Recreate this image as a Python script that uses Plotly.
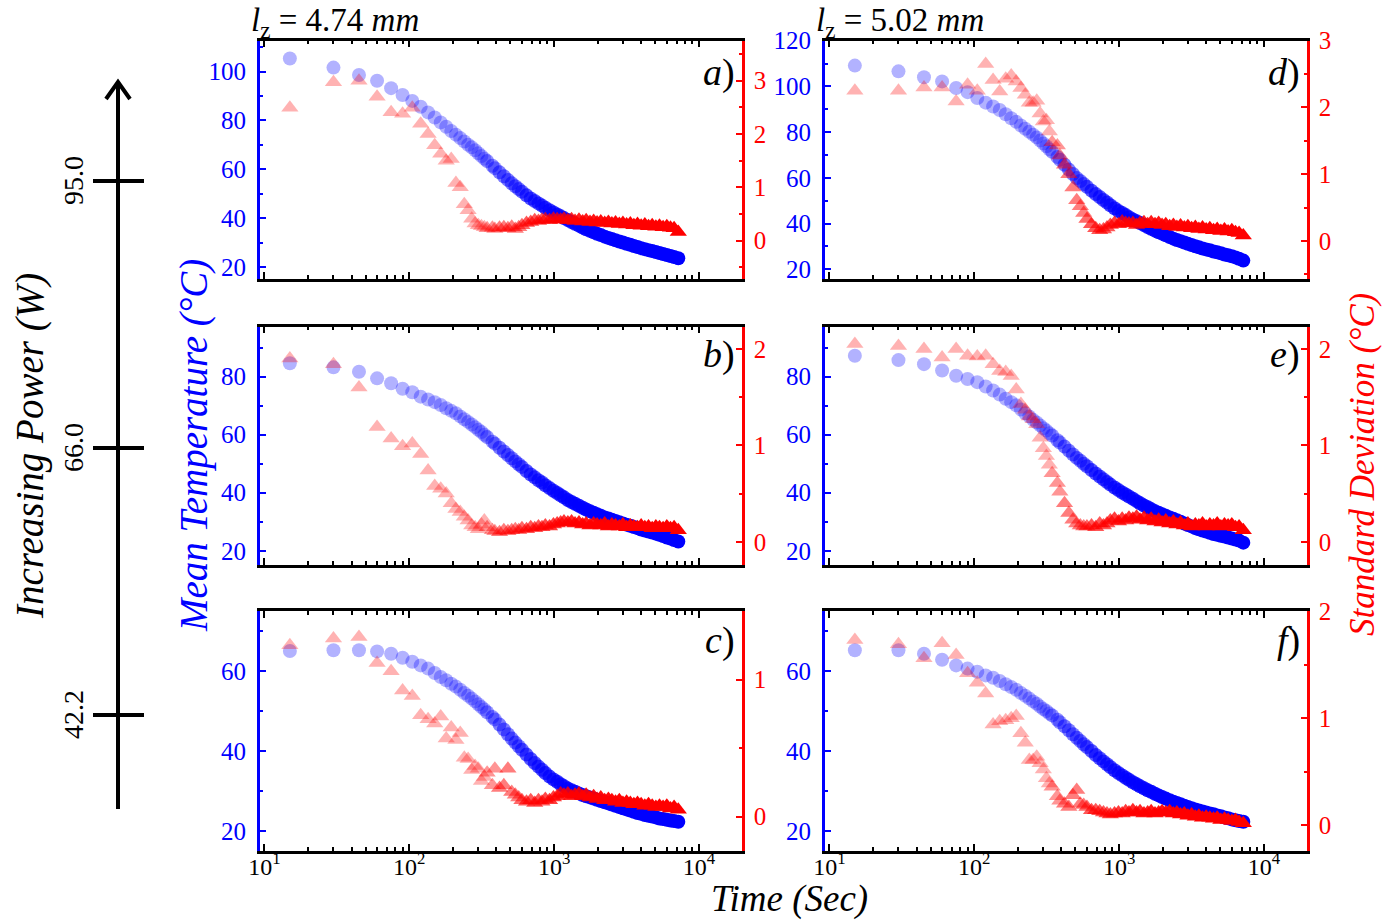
import plotly.graph_objects as go

# ---------------- data ----------------
TIME = [15, 30, 45, 60, 75, 90, 105, 120, 135, 150, 165, 180, 195, 210, 225, 240, 255, 270, 285, 300,
        315, 330, 345, 375, 390, 420, 450, 480, 510, 540, 570, 600,
        645, 690, 735, 780, 825, 870, 930, 990, 1050, 1110, 1170,
        1245, 1320, 1395, 1485, 1575, 1665, 1770, 1875, 1980,
        2100, 2235, 2370, 2505, 2655, 2820, 2985, 3165, 3360, 3555, 3765, 3990,
        4230, 4485, 4755, 5040, 5340, 5655, 6000, 6360, 6735, 7200]

MEAN_A = [105.3, 101.6, 98.6, 96.2, 93.2, 90.4, 88.0, 85.6, 83.3, 81.2, 79.2, 77.4, 75.7, 74.2, 72.8, 71.4, 70.1, 69.0, 67.8, 66.6,
          65.5, 64.4, 63.4, 61.5, 60.5, 58.8, 57.2, 55.7, 54.3, 53.1, 52.0, 50.9,
          49.4, 48.1, 47.1, 46.1, 45.2, 44.3, 43.3, 42.4, 41.6, 40.8, 40.1,
          39.3, 38.5, 37.8, 37.0, 36.2, 35.5, 34.9, 34.3, 33.7,
          33.2, 32.5, 32.0, 31.5, 31.0, 30.5, 30.1, 29.6, 29.2, 28.7, 28.3, 27.8,
          27.4, 27.0, 26.6, 26.2, 25.8, 25.4, 25.0, 24.6, 24.2, 23.7]
STD_A = [2.49, 2.97, 3.00, 2.70, 2.41, 2.38, 2.49, 2.19, 2.00, 1.79, 1.63, 1.50, 1.53, 1.08, 1.00, 0.68, 0.57, 0.41, 0.32, 0.29,
         0.27, 0.25, 0.23, 0.24, 0.22, 0.24, 0.25, 0.23, 0.26, 0.22, 0.25, 0.29,
         0.33, 0.35, 0.38, 0.37, 0.39, 0.40, 0.38, 0.41, 0.40, 0.39, 0.41,
         0.38, 0.40, 0.37, 0.39, 0.36, 0.38, 0.35, 0.37, 0.34,
         0.36, 0.33, 0.35, 0.32, 0.34, 0.31, 0.33, 0.30, 0.32, 0.29, 0.31, 0.28,
         0.30, 0.27, 0.29, 0.26, 0.28, 0.25, 0.27, 0.24, 0.23, 0.16]

MEAN_B = [84.6, 83.2, 81.7, 79.4, 77.7, 75.8, 74.6, 73.1, 72.1, 71.2, 70.2, 69.1, 68.2, 67.4, 66.3, 65.3, 64.4, 63.5, 62.6, 61.7,
          60.9, 60.0, 59.2, 57.6, 56.9, 55.5, 54.2, 53.0, 51.9, 50.8, 49.8, 48.9,
          47.5, 46.3, 45.3, 44.3, 43.5, 42.6, 41.6, 40.7, 39.9, 39.1, 38.4,
          37.5, 36.8, 36.2, 35.5, 34.8, 34.2, 33.6, 33.1, 32.6,
          32.1, 31.5, 31.1, 30.7, 30.3, 29.8, 29.4, 29.0, 28.6, 28.2, 27.8, 27.3,
          27.0, 26.6, 26.3, 25.9, 25.5, 25.1, 24.6, 24.2, 23.7, 23.2]
STD_B = [1.90, 1.84, 1.60, 1.19, 1.07, 0.99, 1.02, 0.91, 0.74, 0.58, 0.55, 0.50, 0.40, 0.34, 0.31, 0.26, 0.22, 0.17, 0.15, 0.13,
         0.18, 0.22, 0.15, 0.12, 0.11, 0.10, 0.12, 0.11, 0.12, 0.13, 0.12, 0.14,
         0.13, 0.15, 0.14, 0.16, 0.15, 0.17, 0.16, 0.18, 0.19, 0.20, 0.21,
         0.20, 0.21, 0.19, 0.20, 0.18, 0.19, 0.17, 0.19, 0.18,
         0.17, 0.19, 0.16, 0.18, 0.17, 0.16, 0.18, 0.15, 0.17, 0.16, 0.15, 0.17,
         0.15, 0.16, 0.14, 0.16, 0.15, 0.14, 0.16, 0.14, 0.15, 0.12]

MEAN_C = [65.0, 65.2, 65.2, 64.9, 64.3, 63.3, 62.3, 61.4, 60.6, 59.5, 58.5, 57.7, 56.8, 56.1, 55.3, 54.5, 53.8, 53.1, 52.4, 51.7,
          51.0, 50.4, 49.7, 48.5, 47.9, 46.6, 45.4, 44.2, 43.1, 42.1, 41.2, 40.3,
          39.1, 38.0, 37.0, 36.1, 35.3, 34.5, 33.6, 32.9, 32.3, 31.7, 31.2,
          30.6, 30.2, 29.8, 29.4, 29.0, 28.7, 28.4, 28.1, 27.8,
          27.5, 27.2, 26.9, 26.6, 26.3, 26.0, 25.7, 25.4, 25.1, 24.8, 24.5, 24.3,
          24.0, 23.8, 23.6, 23.4, 23.1, 23.0, 22.8, 22.6, 22.5, 22.3]
STD_C = [1.25, 1.30, 1.31, 1.12, 1.06, 0.92, 0.88, 0.74, 0.71, 0.68, 0.73, 0.57, 0.65, 0.56, 0.61, 0.43, 0.42, 0.34, 0.37, 0.35,
         0.26, 0.29, 0.32, 0.23, 0.35, 0.21, 0.23, 0.35, 0.18, 0.16, 0.14, 0.12,
         0.11, 0.12, 0.10, 0.12, 0.11, 0.13, 0.12, 0.14, 0.15, 0.17, 0.16,
         0.17, 0.15, 0.16, 0.17, 0.15, 0.16, 0.14, 0.15, 0.13,
         0.14, 0.12, 0.13, 0.12, 0.11, 0.12, 0.10, 0.11, 0.10, 0.09, 0.10, 0.09,
         0.08, 0.09, 0.08, 0.07, 0.08, 0.07, 0.08, 0.06, 0.07, 0.05]

MEAN_D = [109.1, 106.6, 104.0, 102.2, 99.3, 97.5, 94.9, 92.9, 91.2, 89.7, 87.8, 86.1, 84.5, 82.9, 81.5, 80.2, 78.9, 77.7, 76.3, 75.0,
          73.8, 72.5, 71.4, 69.1, 67.9, 65.7, 63.6, 61.7, 59.9, 58.6, 57.3, 56.1,
          54.4, 52.9, 51.6, 50.3, 49.2, 48.0, 46.7, 45.5, 44.6, 43.7, 42.8,
          41.8, 41.0, 40.2, 39.4, 38.5, 37.7, 36.9, 36.2, 35.6,
          34.9, 34.1, 33.4, 32.8, 32.3, 31.7, 31.2, 30.6, 30.1, 29.6, 29.1, 28.7,
          28.3, 27.8, 27.4, 27.0, 26.5, 26.1, 25.7, 25.2, 24.6, 23.8]
STD_D = [2.25, 2.25, 2.30, 2.30, 2.09, 2.34, 2.25, 2.65, 2.41, 2.24, 2.43, 2.48, 2.39, 2.29, 2.19, 2.07, 2.07, 2.10, 1.91, 1.79,
         1.81, 1.64, 1.48, 1.43, 1.28, 1.14, 1.00, 0.80, 0.61, 0.52, 0.42, 0.33,
         0.25, 0.19, 0.16, 0.17, 0.20, 0.24, 0.27, 0.25, 0.29, 0.27, 0.26,
         0.27, 0.24, 0.27, 0.28, 0.25, 0.28, 0.25, 0.27, 0.24,
         0.25, 0.22, 0.24, 0.21, 0.23, 0.20, 0.22, 0.19, 0.21, 0.18, 0.20, 0.17,
         0.19, 0.16, 0.18, 0.15, 0.17, 0.14, 0.16, 0.13, 0.12, 0.08]

MEAN_E = [87.2, 85.7, 84.3, 82.1, 80.3, 79.2, 78.1, 76.6, 75.2, 73.8, 72.4, 71.2, 70.1, 68.7, 67.4, 66.3, 65.1, 64.2, 63.2, 62.2,
          61.4, 60.5, 59.7, 58.1, 57.3, 55.9, 54.5, 53.2, 52.0, 51.0, 50.0, 49.1,
          47.8, 46.6, 45.6, 44.6, 43.7, 42.8, 41.8, 40.9, 40.1, 39.4, 38.7,
          37.9, 37.1, 36.4, 35.6, 35.0, 34.3, 33.6, 33.1, 32.6,
          32.1, 31.5, 31.0, 30.5, 30.0, 29.4, 28.9, 28.4, 27.8, 27.4, 27.0, 26.6,
          26.2, 25.8, 25.5, 25.2, 24.9, 24.6, 24.2, 23.9, 23.5, 22.8]
STD_E = [2.05, 2.03, 2.00, 1.91, 2.00, 1.93, 1.92, 1.93, 1.84, 1.77, 1.76, 1.72, 1.58, 1.43, 1.37, 1.30, 1.27, 1.22, 1.08, 0.97,
         0.89, 0.80, 0.71, 0.61, 0.52, 0.40, 0.30, 0.23, 0.19, 0.17, 0.16, 0.16,
         0.17, 0.15, 0.19, 0.17, 0.19, 0.22, 0.24, 0.21, 0.24, 0.22, 0.25,
         0.24, 0.26, 0.23, 0.25, 0.22, 0.24, 0.21, 0.23, 0.20,
         0.22, 0.19, 0.21, 0.18, 0.20, 0.17, 0.19, 0.16, 0.18, 0.17, 0.19, 0.16,
         0.18, 0.17, 0.19, 0.16, 0.18, 0.17, 0.18, 0.15, 0.16, 0.12]

MEAN_F = [65.2, 65.2, 64.3, 62.8, 61.4, 60.6, 59.8, 58.9, 58.3, 57.5, 56.7, 56.0, 55.3, 54.5, 53.8, 53.1, 52.4, 51.8, 51.1, 50.5,
          50.0, 49.4, 48.9, 47.8, 47.2, 46.2, 45.2, 44.2, 43.3, 42.5, 41.7, 41.0,
          40.0, 39.0, 38.2, 37.4, 36.7, 36.0, 35.2, 34.5, 33.9, 33.3, 32.8,
          32.2, 31.7, 31.2, 30.7, 30.2, 29.8, 29.3, 28.9, 28.5,
          28.1, 27.7, 27.3, 27.0, 26.7, 26.3, 26.0, 25.7, 25.4, 25.1, 24.9, 24.6,
          24.4, 24.2, 23.9, 23.7, 23.4, 23.2, 22.9, 22.7, 22.5, 22.3]
STD_F = [1.73, 1.69, 1.56, 1.70, 1.59, 1.42, 1.33, 1.23, 0.94, 0.97, 0.98, 1.00, 1.02, 0.86, 0.77, 0.61, 0.61, 0.64, 0.58, 0.52,
         0.44, 0.39, 0.36, 0.27, 0.23, 0.20, 0.17, 0.28, 0.33, 0.20, 0.19, 0.17,
         0.14, 0.14, 0.13, 0.12, 0.11, 0.10, 0.11, 0.12, 0.11, 0.13, 0.12,
         0.14, 0.12, 0.13, 0.11, 0.12, 0.13, 0.11, 0.12, 0.13,
         0.12, 0.13, 0.11, 0.12, 0.10, 0.11, 0.09, 0.10, 0.08, 0.09, 0.07, 0.08,
         0.07, 0.06, 0.07, 0.05, 0.06, 0.05, 0.04, 0.05, 0.03, 0.02]

SAMPLE_INTERVAL = 15  # s, acquisition step of the original recording

PANEL_LABELS = ["a", "b", "c", "d", "e", "f"]
COLUMN_TITLES = ["<i>l</i><sub>z</sub> = 4.74 <i>mm</i>", "<i>l</i><sub>z</sub> = 5.02 <i>mm</i>"]
POWER_LABELS = ["95.0", "66.0", "42.2"]
X_TICKS = [10, 100, 1000, 10000]
X_TICKTEXT = ["10<sup>1</sup>", "10<sup>2</sup>", "10<sup>3</sup>", "10<sup>4</sup>"]

# ---------------- layout helpers ----------------
W, H = 1383, 923
FONT = "Liberation Serif, Times New Roman, serif"
BLUE = "#0000ff"
RED = "#ff0000"
BASE_ALPHA = 0.3


def px(x):
    return x / W


def py(y):
    return 1 - y / H


# each plotted point stands for the original samples in its time bin, so its
# opacity is the stacked opacity of those samples
def stacked_opacity(times):
    out = []
    n = len(times)
    for i in range(n):
        if i == 0:
            dt = times[1] - times[0]
        elif i == n - 1:
            dt = times[-1] - times[-2]
        else:
            dt = (times[i + 1] - times[i - 1]) / 2
        k = max(dt / SAMPLE_INTERVAL, 1.0)
        out.append(min(1.0, 1 - (1 - BASE_ALPHA) ** k))
    return out


OPAC = stacked_opacity(TIME)

COLS = [(260, 741.7), (825, 1306.7)]
ROWS = [(40.7, 279), (326.7, 565), (611, 851)]

panels = [
    dict(mean=MEAN_A, std=STD_A, col=0, row=0, yr=[15.2, 112.6], yt=[20, 40, 60, 80, 100], ym=[30, 50, 70, 90, 110],
         sr=[-0.72, 3.75], st=[0, 1, 2, 3], sm=[-0.5, 0.5, 1.5, 2.5, 3.5]),
    dict(mean=MEAN_B, std=STD_B, col=0, row=1, yr=[15.1, 97.2], yt=[20, 40, 60, 80], ym=[30, 50, 70, 90],
         sr=[-0.24, 2.23], st=[0, 1, 2], sm=[0.5, 1.5]),
    dict(mean=MEAN_C, std=STD_C, col=0, row=2, yr=[15, 75], yt=[20, 40, 60], ym=[30, 50, 70],
         sr=[-0.25, 1.5], st=[0, 1], sm=[0.5]),
    dict(mean=MEAN_D, std=STD_D, col=1, row=0, yr=[15.75, 120], yt=[20, 40, 60, 80, 100, 120], ym=[30, 50, 70, 90, 110],
         sr=[-0.57, 3.0], st=[0, 1, 2, 3], sm=[-0.5, 0.5, 1.5, 2.5]),
    dict(mean=MEAN_E, std=STD_E, col=1, row=1, yr=[15.1, 97.2], yt=[20, 40, 60, 80], ym=[30, 50, 70, 90],
         sr=[-0.24, 2.23], st=[0, 1, 2], sm=[0.5, 1.5]),
    dict(mean=MEAN_F, std=STD_F, col=1, row=2, yr=[15, 75], yt=[20, 40, 60], ym=[30, 50, 70],
         sr=[-0.24, 2.0], st=[0, 1, 2], sm=[0.5, 1.5]),
]

x_minor = [m * 10 ** e for e in range(1, 5) for m in range(2, 10)]
x_minor = [v for v in x_minor if v < 20000]

fig = go.Figure()
layout = dict(
    width=W, height=H, autosize=False,
    margin=dict(l=0, r=0, t=0, b=0),
    paper_bgcolor="white", plot_bgcolor="rgba(0,0,0,0)",
    showlegend=False, template="none",
    font=dict(family=FONT, color="black"),
)

for i, p in enumerate(panels):
    n = i + 1
    ns = i + 7
    xa = "x" if n == 1 else f"x{n}"
    ya = "y" if n == 1 else f"y{n}"
    ys = f"y{ns}"
    x0, x1 = COLS[p["col"]]
    ytop, ybot = ROWS[p["row"]]
    bottom_row = p["row"] == 2

    layout[f"xaxis{n}"] = dict(
        domain=[px(x0), px(x1)], anchor=ya, type="log", range=[0.97, 4.295],
        showline=True, linecolor="black", linewidth=2.5, mirror="ticks",
        ticks="inside", ticklen=7, tickwidth=2, tickcolor="black",
        tickvals=X_TICKS, ticktext=X_TICKTEXT, showticklabels=bottom_row,
        ticklabelstandoff=-8,
        tickfont=dict(family=FONT, size=24, color="black"),
        minor=dict(tickvals=x_minor, ticks="inside", ticklen=4, tickwidth=1.5, tickcolor="black"),
        showgrid=False, zeroline=False,
    )
    layout[f"yaxis{n}"] = dict(
        domain=[py(ybot), py(ytop)], anchor=xa, range=p["yr"],
        showline=True, linecolor=BLUE, linewidth=3,
        ticks="inside", ticklen=6, tickwidth=2, tickcolor=BLUE,
        tickvals=p["yt"], ticklabelstandoff=6,
        tickfont=dict(family=FONT, size=25, color=BLUE),
        minor=dict(tickvals=p["ym"], ticks="inside", ticklen=3, tickwidth=2, tickcolor=BLUE),
        showgrid=False, zeroline=False,
    )
    layout[f"yaxis{ns}"] = dict(
        overlaying=ya, anchor=xa, side="right", range=p["sr"],
        showline=True, linecolor=RED, linewidth=3,
        ticks="inside", ticklen=6, tickwidth=2, tickcolor=RED,
        tickvals=p["st"], ticklabelstandoff=4,
        tickfont=dict(family=FONT, size=25, color=RED),
        minor=dict(tickvals=p["sm"], ticks="inside", ticklen=3, tickwidth=2, tickcolor=RED),
        showgrid=False, zeroline=False,
    )

    fig.add_trace(go.Scatter(
        x=TIME, y=p["mean"], xaxis=xa, yaxis=ya, mode="markers",
        marker=dict(symbol="circle", size=14, color=BLUE, opacity=OPAC, line=dict(width=0)),
        name="Mean Temperature",
    ))
    fig.add_trace(go.Scatter(
        x=TIME, y=p["std"], xaxis=xa, yaxis=ys, mode="markers",
        marker=dict(symbol="triangle-up", size=15, color=RED, opacity=OPAC, line=dict(width=0)),
        name="Standard Deviation",
    ))

annotations = []
label_pos_y = [73, 355, 640]
for i, p in enumerate(panels):
    xr = COLS[p["col"]][1] - 5
    annotations.append(dict(
        text=f"<i>{PANEL_LABELS[i]}</i>)", x=px(xr), y=py(label_pos_y[p["row"]]), xref="paper", yref="paper",
        xanchor="right", yanchor="middle", showarrow=False,
        font=dict(family=FONT, size=38, color="black"),
    ))
for c, t in enumerate(COLUMN_TITLES):
    annotations.append(dict(
        text=t, x=px(COLS[c][0] - 11), y=py(22), xref="paper", yref="paper",
        xanchor="left", yanchor="middle", showarrow=False,
        font=dict(family=FONT, size=33, color="black"),
    ))
annotations.append(dict(
    text="<i>Mean Temperature (°C)</i>", x=px(194), y=py(446), xref="paper", yref="paper",
    xanchor="center", yanchor="middle", textangle=-90, showarrow=False,
    font=dict(family=FONT, size=39, color=BLUE),
))
annotations.append(dict(
    text="<i>Standard Deviation (°C)</i>", x=px(1362), y=py(465), xref="paper", yref="paper",
    xanchor="center", yanchor="middle", textangle=-90, showarrow=False,
    font=dict(family=FONT, size=35, color=RED),
))
annotations.append(dict(
    text="<i>Time (Sec)</i>", x=px(789), y=py(899), xref="paper", yref="paper",
    xanchor="center", yanchor="middle", showarrow=False,
    font=dict(family=FONT, size=37, color="black"),
))
annotations.append(dict(
    text="<i>Increasing Power (W)</i>", x=px(30), y=py(446), xref="paper", yref="paper",
    xanchor="center", yanchor="middle", textangle=-90, showarrow=False,
    font=dict(family=FONT, size=39, color="black"),
))
POWER_Y = [181, 448, 715]
shapes = []
for lab, yy in zip(POWER_LABELS, POWER_Y):
    annotations.append(dict(
        text=lab, x=px(73), y=py(yy), xref="paper", yref="paper",
        xanchor="center", yanchor="middle", textangle=-90, showarrow=False,
        font=dict(family=FONT, size=28, color="black"),
    ))
    shapes.append(dict(type="line", xref="paper", yref="paper", x0=px(93), x1=px(144), y0=py(yy), y1=py(yy),
                       line=dict(color="black", width=4)))
shapes.append(dict(type="line", xref="paper", yref="paper", x0=px(118), x1=px(118), y0=py(809), y1=py(82),
                   line=dict(color="black", width=4)))
shapes.append(dict(type="path", xref="paper", yref="paper",
                   path=f"M {px(106)} {py(99)} L {px(118)} {py(82)} L {px(130)} {py(99)}",
                   line=dict(color="black", width=4)))

layout["annotations"] = annotations
layout["shapes"] = shapes
fig.update_layout(**layout)
fig.write_html("out.html")
